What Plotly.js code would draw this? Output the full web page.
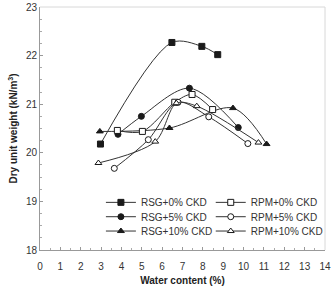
<!DOCTYPE html>
<html>
<head>
<meta charset="utf-8">
<script src="https://cdn.plot.ly/plotly-3.0.1.min.js"></script>
<style>
  html, body { margin: 0; padding: 0; background: #fff; }
  #chart { width: 334px; height: 290px; }
</style>
</head>
<body>
<div id="chart"></div>
<script>
// Compaction curves: dry unit weight vs water content
const rsg0x  = [2.97, 6.48, 7.95, 8.73];
const rsg0y  = [20.18, 22.27, 22.19, 22.02];
const rsg5x  = [3.83, 4.98, 7.34, 9.74];
const rsg5y  = [20.38, 20.75, 21.33, 20.52];
const rsg10x = [2.94, 6.36, 9.48, 11.13];
const rsg10y = [20.44, 20.51, 20.92, 20.18];
const rpm0x  = [3.80, 5.03, 6.62, 7.47, 8.48];
const rpm0y  = [20.46, 20.44, 21.04, 21.20, 20.89];
const rpm5x  = [3.65, 5.32, 6.78, 8.29, 10.21];
const rpm5y  = [19.68, 20.27, 21.04, 20.74, 20.19];
const rpm10x = [2.87, 5.66, 6.70, 7.70, 10.73];
const rpm10y = [19.79, 20.23, 21.02, 20.96, 20.21];

const names = ['RSG+0% CKD', 'RSG+5% CKD', 'RSG+10% CKD', 'RPM+0% CKD', 'RPM+5% CKD', 'RPM+10% CKD'];

const ink = '#1a1a1a';
const FONT = 'Liberation Sans, Arial, sans-serif';

function series(x, y, name, symbol, fill, legend) {
  return {
    x: x, y: y, name: name, type: 'scatter', mode: 'lines+markers',
    line: { color: '#333', width: 1, shape: 'spline', smoothing: 0.9 },
    marker: { symbol: symbol, size: 6, color: fill, line: { color: ink, width: 1 } },
    legend: legend
  };
}

const traces = [
  series(rsg0x, rsg0y, names[0], 'square', ink, 'legend'),
  series(rsg5x, rsg5y, names[1], 'circle', ink, 'legend2'),
  series(rsg10x, rsg10y, names[2], 'triangle-up', ink, 'legend3'),
  series(rpm0x, rpm0y, names[3], 'square', '#fff', 'legend4'),
  series(rpm5x, rpm5y, names[4], 'circle', '#fff', 'legend5'),
  series(rpm10x, rpm10y, names[5], 'triangle-up', '#fff', 'legend6')
];

// one legend per entry so the two-column block keeps a tight row pitch
function legendAt(x, y) {
  return {
    bgcolor: 'rgba(0,0,0,0)', borderwidth: 0,
    font: { family: FONT, size: 10, color: '#333' },
    itemwidth: 30, xanchor: 'left', yanchor: 'middle', x: x, y: y
  };
}
const col1 = 0.213, col2 = 0.597;
const rows = [0.196, 0.137, 0.078];

const layout = {
  width: 334, height: 290,
  margin: { l: 40, r: 8, t: 7, b: 40 },
  paper_bgcolor: '#fff', plot_bgcolor: '#fff',
  font: { family: FONT, size: 10, color: '#333' },
  showlegend: true,
  legend: legendAt(col1, rows[0]),
  legend2: legendAt(col1, rows[1]),
  legend3: legendAt(col1, rows[2]),
  legend4: legendAt(col2, rows[0]),
  legend5: legendAt(col2, rows[1]),
  legend6: legendAt(col2, rows[2]),
  xaxis: {
    range: [0, 14], dtick: 1, tick0: 0,
    showgrid: false, zeroline: false,
    showline: true, linecolor: '#999', linewidth: 1,
    ticks: 'inside', ticklen: 3, tickcolor: '#999',
    minor: { dtick: 0.5, ticks: 'inside', ticklen: 2, tickcolor: '#aaa' },
    ticklabelstandoff: 7,
    tickfont: { family: FONT, size: 10, color: '#333' },
    title: { text: '<b>Water content (%)</b>', font: { family: FONT, size: 10, color: '#222' }, standoff: 5 }
  },
  yaxis: {
    range: [18, 23], dtick: 1, tick0: 18,
    showgrid: false, zeroline: false,
    showline: true, linecolor: '#999', linewidth: 1,
    ticks: 'inside', ticklen: 3, tickcolor: '#999',
    minor: { dtick: 0.25, ticks: 'inside', ticklen: 2, tickcolor: '#aaa' },
    tickfont: { family: FONT, size: 10, color: '#333' },
    title: { text: '<b>Dry unit weight (kN/m<sup>3</sup>)</b>', font: { family: FONT, size: 10, color: '#222' }, standoff: 6 }
  },
  shapes: [
    { type: 'line', xref: 'paper', yref: 'paper', x0: 0, x1: 1, y0: 1, y1: 1, line: { color: '#d8d8d8', width: 1 } },
    { type: 'line', xref: 'paper', yref: 'paper', x0: 1, x1: 1, y0: 0, y1: 1, line: { color: '#d8d8d8', width: 1 } }
  ]
};

Plotly.newPlot('chart', traces, layout, { displayModeBar: false, staticPlot: true });
</script>
</body>
</html>
